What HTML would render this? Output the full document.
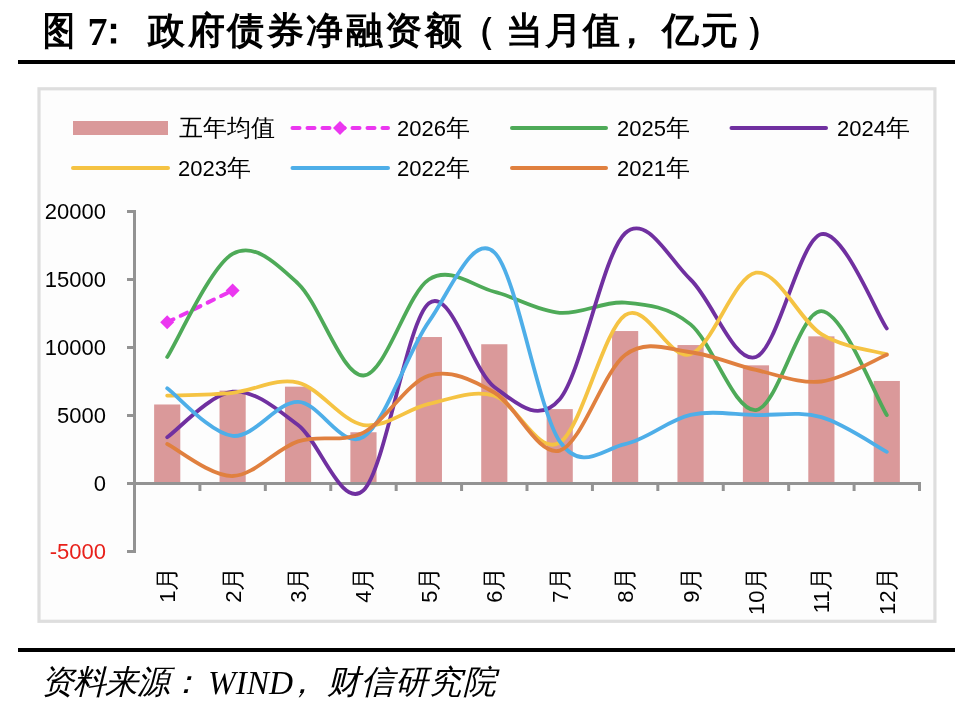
<!DOCTYPE html>
<html><head><meta charset="utf-8"><style>
html,body{margin:0;padding:0;background:#fff;}
body{width:975px;height:714px;position:relative;overflow:hidden;font-family:"Liberation Sans",sans-serif;color:#000;}
.a{position:absolute;white-space:nowrap;line-height:1;}
.rule{position:absolute;left:18px;width:937px;height:4px;background:#000;}
svg{position:absolute;left:0;top:0;font-family:"Liberation Sans",sans-serif;}
.lg{font-size:22px;}
.t{position:absolute;top:12px;font-size:37px;font-weight:bold;line-height:1;white-space:nowrap;}
.f{position:absolute;top:665px;font-size:33px;font-weight:300;font-style:italic;line-height:1;white-space:nowrap;}
.cj{font-size:24px;font-weight:300;}
.yl{position:absolute;font-size:22px;line-height:1;text-align:right;width:70px;left:36px;}
</style></head><body><div id="wrap" style="position:absolute;left:0;top:0;width:975px;height:714px;will-change:transform">
<div class="t" style="left:42.5px;top:11.5px;font-size:38.5px;transform:scaleX(0.82);transform-origin:0 0">图</div>
<div class="t" style="left:87.5px;top:12px;font-size:40px;font-family:'Liberation Serif',serif">7</div>
<div class="t" style="left:94.5px">：</div>
<div class="t" style="left:148.2px">政</div>
<div class="t" style="left:187.7px">府</div>
<div class="t" style="left:227.2px">债</div>
<div class="t" style="left:266.7px">券</div>
<div class="t" style="left:306.2px">净</div>
<div class="t" style="left:345.7px">融</div>
<div class="t" style="left:385.2px">资</div>
<div class="t" style="left:424.7px">额</div>
<div class="t" style="left:458.6px">（</div>
<div class="t" style="left:505.6px">当</div>
<div class="t" style="left:544.6px">月</div>
<div class="t" style="left:582.7px">值</div>
<div class="t" style="left:612.8px">，</div>
<div class="t" style="left:661.7px">亿</div>
<div class="t" style="left:701.2px">元</div>
<div class="t" style="left:745.4px">）</div>
<div class="rule" style="top:60px"></div>
<svg width="975" height="714" viewBox="0 0 975 714">
<rect x="39" y="88.8" width="895.9" height="532.5" fill="#fdfdfd" stroke="#dedede" stroke-width="3.2"/>
<rect x="154.12" y="404.48" width="26.17" height="79.02" fill="#da999a"/>
<rect x="219.54" y="390.61" width="26.17" height="92.89" fill="#da999a"/>
<rect x="284.96" y="386.67" width="26.17" height="96.83" fill="#da999a"/>
<rect x="350.38" y="432.23" width="26.17" height="51.27" fill="#da999a"/>
<rect x="415.79" y="337.03" width="26.17" height="146.47" fill="#da999a"/>
<rect x="481.21" y="344.24" width="26.17" height="139.26" fill="#da999a"/>
<rect x="546.62" y="409.11" width="26.17" height="74.39" fill="#da999a"/>
<rect x="612.04" y="331.04" width="26.17" height="152.46" fill="#da999a"/>
<rect x="677.46" y="345.05" width="26.17" height="138.45" fill="#da999a"/>
<rect x="742.88" y="365.32" width="26.17" height="118.18" fill="#da999a"/>
<rect x="808.29" y="336.35" width="26.17" height="147.15" fill="#da999a"/>
<rect x="873.71" y="380.96" width="26.17" height="102.54" fill="#da999a"/>
<g stroke="#939393" stroke-width="3" fill="none">
<path d="M134.5,210 V553"/>
<path d="M127,211.5 H134.5"/>
<path d="M127,279.5 H134.5"/>
<path d="M127,347.5 H134.5"/>
<path d="M127,415.5 H134.5"/>
<path d="M127,483.5 H134.5"/>
<path d="M127,551.5 H134.5"/>
<path d="M134.5,483.5 H921"/>
<path d="M199.92,483.5 V491"/>
<path d="M265.33,483.5 V491"/>
<path d="M330.75,483.5 V491"/>
<path d="M396.17,483.5 V491"/>
<path d="M461.58,483.5 V491"/>
<path d="M527.00,483.5 V491"/>
<path d="M592.42,483.5 V491"/>
<path d="M657.83,483.5 V491"/>
<path d="M723.25,483.5 V491"/>
<path d="M788.67,483.5 V491"/>
<path d="M854.08,483.5 V491"/>
<path d="M919.50,483.5 V491"/>
</g>
<path d="M167.21,322.34 L232.62,290.38" stroke="#eb37f0" stroke-width="4" stroke-dasharray="7 8" stroke-linecap="round" fill="none"/>
<path d="M167.21,315.34 l7,7 l-7,7 l-7,-7 z" fill="#eb37f0"/>
<path d="M232.62,283.38 l7,7 l-7,7 l-7,-7 z" fill="#eb37f0"/>
<path d="M167.21,357.02 C178.11,339.84 210.82,266.17 232.62,253.93 C254.43,241.69 276.24,263.32 298.04,283.58 C319.85,303.84 341.65,376.20 363.46,375.52 C385.26,374.84 407.07,293.46 428.88,279.50 C450.68,265.54 472.49,286.19 494.29,291.74 C516.10,297.29 537.90,311.01 559.71,312.82 C581.51,314.63 603.32,300.69 625.12,302.62 C646.93,304.55 668.74,306.47 690.54,324.38 C712.35,342.29 734.15,412.26 755.96,410.06 C777.76,407.86 799.57,310.35 821.38,311.19 C843.18,312.03 875.89,397.77 886.79,415.09" stroke="#4eaa58" stroke-width="3.80" fill="none" stroke-linecap="round" stroke-linejoin="round"/>
<path d="M167.21,437.26 C178.11,429.67 210.82,393.74 232.62,391.70 C254.43,389.66 276.24,408.59 298.04,425.02 C319.85,441.45 341.65,510.59 363.46,490.30 C385.26,470.01 407.07,320.53 428.88,303.30 C450.68,286.07 472.49,370.96 494.29,386.94 C516.10,402.92 537.90,424.79 559.71,399.18 C581.51,373.57 603.32,253.21 625.12,233.26 C646.93,213.31 668.74,258.87 690.54,279.50 C712.35,300.13 734.15,364.57 755.96,357.02 C777.76,349.47 799.57,238.97 821.38,234.21 C843.18,229.45 875.89,312.75 886.79,328.46" stroke="#7030a0" stroke-width="3.80" fill="none" stroke-linecap="round" stroke-linejoin="round"/>
<path d="M167.21,395.64 C178.11,395.17 210.82,394.96 232.62,392.79 C254.43,390.61 276.24,377.22 298.04,382.59 C319.85,387.96 341.65,421.46 363.46,425.02 C385.26,428.58 407.07,408.81 428.88,403.94 C450.68,399.07 472.49,389.32 494.29,395.78 C516.10,402.24 537.90,456.14 559.71,442.70 C581.51,429.26 603.32,329.87 625.12,315.13 C646.93,300.40 668.74,361.37 690.54,354.30 C712.35,347.23 734.15,276.05 755.96,272.70 C777.76,269.35 799.57,320.57 821.38,334.17 C843.18,347.77 875.89,350.95 886.79,354.30" stroke="#f5c343" stroke-width="3.80" fill="none" stroke-linecap="round" stroke-linejoin="round"/>
<path d="M167.21,388.30 C178.11,396.23 210.82,433.63 232.62,435.90 C254.43,438.17 276.24,401.72 298.04,401.90 C319.85,402.08 341.65,450.36 363.46,436.99 C385.26,423.61 407.07,352.44 428.88,321.66 C450.68,290.88 472.49,232.35 494.29,252.30 C516.10,272.25 537.90,409.38 559.71,441.34 C581.51,473.30 603.32,448.46 625.12,444.06 C646.93,439.66 668.74,419.78 690.54,414.96 C712.35,410.13 734.15,414.73 755.96,415.09 C777.76,415.45 799.57,411.01 821.38,417.13 C843.18,423.25 875.89,446.03 886.79,451.81" stroke="#4eaee8" stroke-width="3.80" fill="none" stroke-linecap="round" stroke-linejoin="round"/>
<path d="M167.21,444.06 C178.11,449.39 210.82,476.47 232.62,476.02 C254.43,475.57 276.24,448.57 298.04,441.34 C319.85,434.11 341.65,443.58 363.46,432.64 C385.26,421.69 407.07,382.34 428.88,375.65 C450.68,368.97 472.49,380.03 494.29,392.52 C516.10,405.01 537.90,456.84 559.71,450.59 C581.51,444.33 603.32,371.37 625.12,354.98 C646.93,338.59 668.74,349.77 690.54,352.26 C712.35,354.75 734.15,365.07 755.96,369.94 C777.76,374.81 799.57,384.02 821.38,381.50 C843.18,378.98 875.89,359.29 886.79,354.84" stroke="#e0803f" stroke-width="3.80" fill="none" stroke-linecap="round" stroke-linejoin="round"/>
<rect x="73" y="121" width="95" height="14" fill="#da999a"/>
<path d="M292.5,128.0 H388" stroke="#eb37f0" stroke-width="4" stroke-dasharray="7 8" stroke-linecap="round"/>
<path d="M340,121.0 l7,7 l-7,7 l-7,-7 z" fill="#eb37f0"/>
<path d="M512.0,128.0 H606.0" stroke="#4eaa58" stroke-width="4" stroke-linecap="round"/>
<path d="M731.5,128.0 H826.0" stroke="#7030a0" stroke-width="4" stroke-linecap="round"/>
<path d="M73.0,168.0 H168.0" stroke="#f5c343" stroke-width="4" stroke-linecap="round"/>
<path d="M292.5,168.0 H388.0" stroke="#4eaee8" stroke-width="4" stroke-linecap="round"/>
<path d="M512.0,168.0 H606.0" stroke="#e0803f" stroke-width="4" stroke-linecap="round"/>
<text transform="translate(175.21,566.5) rotate(-90)" text-anchor="end" font-size="22">1<tspan font-size="24" font-weight="300">月</tspan></text>
<text transform="translate(240.62,566.5) rotate(-90)" text-anchor="end" font-size="22">2<tspan font-size="24" font-weight="300">月</tspan></text>
<text transform="translate(306.04,566.5) rotate(-90)" text-anchor="end" font-size="22">3<tspan font-size="24" font-weight="300">月</tspan></text>
<text transform="translate(371.46,566.5) rotate(-90)" text-anchor="end" font-size="22">4<tspan font-size="24" font-weight="300">月</tspan></text>
<text transform="translate(436.88,566.5) rotate(-90)" text-anchor="end" font-size="22">5<tspan font-size="24" font-weight="300">月</tspan></text>
<text transform="translate(502.29,566.5) rotate(-90)" text-anchor="end" font-size="22">6<tspan font-size="24" font-weight="300">月</tspan></text>
<text transform="translate(567.71,566.5) rotate(-90)" text-anchor="end" font-size="22">7<tspan font-size="24" font-weight="300">月</tspan></text>
<text transform="translate(633.12,566.5) rotate(-90)" text-anchor="end" font-size="22">8<tspan font-size="24" font-weight="300">月</tspan></text>
<text transform="translate(698.54,566.5) rotate(-90)" text-anchor="end" font-size="22">9<tspan font-size="24" font-weight="300">月</tspan></text>
<text transform="translate(763.96,566.5) rotate(-90)" text-anchor="end" font-size="22">10<tspan font-size="24" font-weight="300">月</tspan></text>
<text transform="translate(829.38,566.5) rotate(-90)" text-anchor="end" font-size="22">11<tspan font-size="24" font-weight="300">月</tspan></text>
<text transform="translate(894.79,566.5) rotate(-90)" text-anchor="end" font-size="22">12<tspan font-size="24" font-weight="300">月</tspan></text>
</svg>
<div class="a cj" style="left:178.5px;top:116.0px">五年均值</div>
<div class="a lg" style="left:397.0px;top:116.0px">2026<span class="cj">年</span></div>
<div class="a lg" style="left:617.0px;top:116.0px">2025<span class="cj">年</span></div>
<div class="a lg" style="left:837.0px;top:116.0px">2024<span class="cj">年</span></div>
<div class="a lg" style="left:178.0px;top:156.0px">2023<span class="cj">年</span></div>
<div class="a lg" style="left:397.0px;top:156.0px">2022<span class="cj">年</span></div>
<div class="a lg" style="left:617.0px;top:156.0px">2021<span class="cj">年</span></div>
<div class="yl" style="top:200.5px;">20000</div>
<div class="yl" style="top:268.5px;">15000</div>
<div class="yl" style="top:336.5px;">10000</div>
<div class="yl" style="top:404.5px;">5000</div>
<div class="yl" style="top:472.5px;">0</div>
<div class="yl" style="top:540.5px;color:#e8201a;">-5000</div>
<div class="rule" style="top:648px"></div>
<div class="f" style="left:41.0px">资</div>
<div class="f" style="left:73.0px">料</div>
<div class="f" style="left:105.0px">来</div>
<div class="f" style="left:137.0px">源</div>
<div class="f" style="left:169.0px">：</div>
<div class="f" style="left:208px;top:666px;font-size:33.3px;font-family:'Liberation Serif',serif">WIND</div>
<div class="f" style="left:285px">，</div>
<div class="f" style="left:327.0px">财</div>
<div class="f" style="left:360.9px">信</div>
<div class="f" style="left:394.8px">研</div>
<div class="f" style="left:428.7px">究</div>
<div class="f" style="left:462.6px">院</div>
</div></body></html>
